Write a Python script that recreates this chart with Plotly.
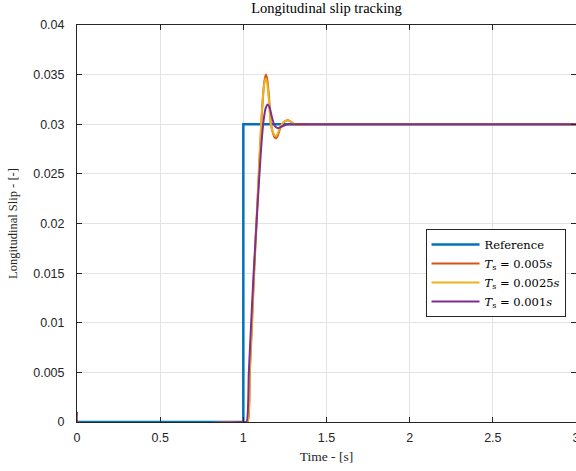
import plotly.graph_objects as go

# Reference step
t_ref = [0.0, 1.0, 1.0, 3.0]
y_ref = [0.0, 0.0, 0.03, 0.03]

# Ts = 0.005 s
t_005 = [0.0, 0.003, 1.0, 1.026, 1.039, 1.052, 1.065, 1.08, 1.095, 1.108, 1.118, 1.127, 1.136, 1.145,
         1.155, 1.166, 1.177, 1.187, 1.196, 1.206, 1.218, 1.232, 1.25, 1.27, 1.29, 1.31, 1.34, 1.4, 3.0]
y_005 = [0.001, 0.0, 0.0, 0.0, 0.005, 0.0098, 0.015, 0.0203, 0.0256, 0.030, 0.0328, 0.0344, 0.035, 0.0344,
         0.0326, 0.030, 0.0292, 0.0287, 0.0286, 0.0288, 0.0294, 0.0300, 0.0303, 0.0304, 0.0302, 0.03, 0.02995, 0.03, 0.03]

# Ts = 0.0025 s
t_0025 = [0.0, 0.003, 1.0, 1.025, 1.038, 1.051, 1.064, 1.079, 1.094, 1.107, 1.117, 1.126, 1.135, 1.144,
          1.154, 1.165, 1.176, 1.186, 1.195, 1.205, 1.217, 1.231, 1.249, 1.269, 1.29, 1.31, 1.34, 1.4, 3.0]
y_0025 = [0.001, 0.0, 0.0, 0.0, 0.005, 0.0098, 0.015, 0.0203, 0.0256, 0.030, 0.0326, 0.0341, 0.0346, 0.0341,
          0.0324, 0.030, 0.0293, 0.0289, 0.0288, 0.0290, 0.0295, 0.0300, 0.0303, 0.0304, 0.0302, 0.03, 0.02997, 0.03, 0.03]

# Ts = 0.001 s
t_001 = [0.0, 0.003, 1.0, 1.019, 1.033, 1.047, 1.062, 1.079, 1.097, 1.11, 1.122, 1.134, 1.146, 1.158,
         1.172, 1.19, 1.21, 1.235, 1.27, 1.3, 3.0]
y_001 = [0.001, 0.0, 0.0, 0.0, 0.005, 0.010, 0.015, 0.020, 0.025, 0.0283, 0.0304, 0.0316, 0.0320, 0.0317,
         0.0307, 0.0298, 0.0296, 0.0298, 0.03, 0.03, 0.03]

x_ticks = [0, 0.5, 1, 1.5, 2, 2.5, 3]
x_tick_text = ["0", "0.5", "1", "1.5", "2", "2.5", "3"]
y_ticks = [0, 0.005, 0.01, 0.015, 0.02, 0.025, 0.03, 0.035, 0.04]
y_tick_text = ["0", "0.005", "0.01", "0.015", "0.02", "0.025", "0.03", "0.035", "0.04"]

names = ["Reference", "<i>T</i><sub>s</sub> = 0.005<i>s</i>",
         "<i>T</i><sub>s</sub> = 0.0025<i>s</i>", "<i>T</i><sub>s</sub> = 0.001<i>s</i>"]
colors = ["#0072BD", "#D95319", "#EDB120", "#7E2F8E"]

fig = go.Figure()
fig.add_trace(go.Scatter(x=t_ref, y=y_ref, mode="lines", name=names[0],
                         line=dict(color=colors[0], width=2.5)))
fig.add_trace(go.Scatter(x=t_005, y=y_005, mode="lines", name=names[1],
                         line=dict(color=colors[1], width=2, shape="spline", smoothing=0.6)))
fig.add_trace(go.Scatter(x=t_0025, y=y_0025, mode="lines", name=names[2],
                         line=dict(color=colors[2], width=2, shape="spline", smoothing=0.6)))
fig.add_trace(go.Scatter(x=t_001, y=y_001, mode="lines", name=names[3],
                         line=dict(color=colors[3], width=2, shape="spline", smoothing=0.6)))

axis_common = dict(showline=True, linecolor="#262626", linewidth=1, mirror="ticks",
                   ticks="inside", ticklen=5, tickcolor="#262626",
                   showgrid=True, gridcolor="#e3e3e3", gridwidth=1, zeroline=False,
                   ticklabeloverflow="allow", automargin=False,
                   tickfont=dict(family="Liberation Sans, Arial", size=12.5, color="#262626"))

fig.update_layout(
    width=576, height=471,
    margin=dict(l=77, r=0, t=25, b=49),
    paper_bgcolor="white", plot_bgcolor="white",
    title=dict(text="Longitudinal slip tracking", x=0.5, xanchor="center", xref="paper",
               y=1, yref="container", yanchor="top", pad=dict(t=3),
               font=dict(family="Liberation Serif, serif", size=14.5, color="black")),
    xaxis=dict(range=[0, 3], tickvals=x_ticks, ticktext=x_tick_text, ticklabelstandoff=4,
               title=dict(text="Time - [s]", standoff=7,
                          font=dict(family="Liberation Serif, serif", size=13.5, color="#262626")),
               **axis_common),
    yaxis=dict(range=[0, 0.04], tickvals=y_ticks, ticktext=y_tick_text, ticklabelstandoff=9,
               title=dict(text="Longitudinal Slip - [-]", standoff=12,
                          font=dict(family="Liberation Serif, serif", size=12.5, color="#262626")),
               **axis_common),
    legend=dict(x=0.979, y=0.486, xanchor="right", yanchor="top",
                bgcolor="white", bordercolor="#262626", borderwidth=1,
                font=dict(family="DejaVu Serif, serif", size=11.5, color="black"),
                tracegroupgap=0, itemwidth=48),
    showlegend=True,
)

fig.write_html("out.html")
